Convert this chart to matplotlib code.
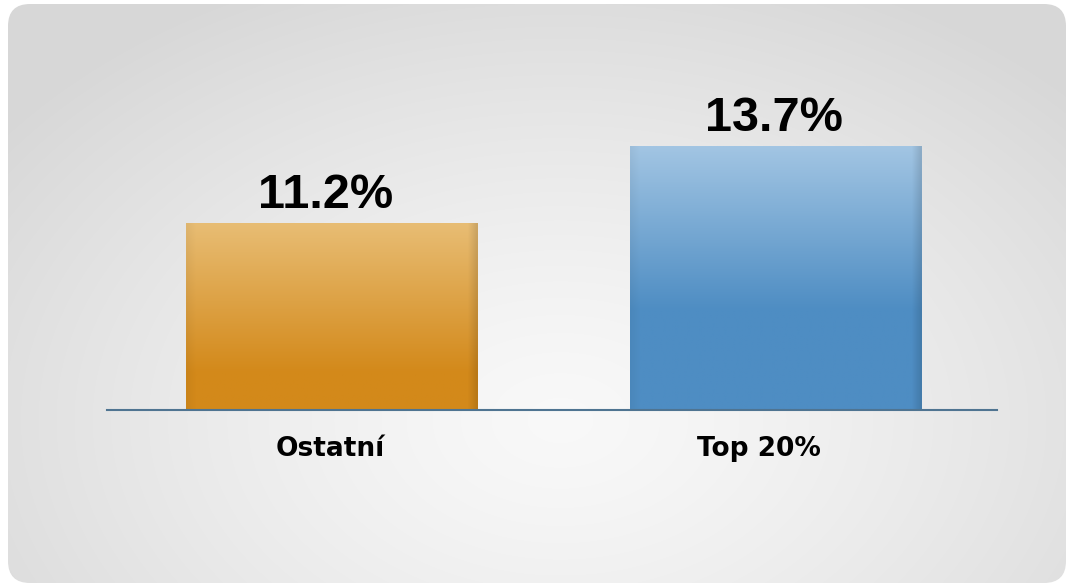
import numpy as np
import matplotlib
matplotlib.use("Agg")
from matplotlib import pyplot as plt
from matplotlib.patches import FancyBboxPatch
from matplotlib.colors import to_rgb
from matplotlib.transforms import ScaledTranslation

categories = ["Ostatní", "Top 20%"]
values = [11.2, 13.7]
value_labels = ["11.2%", "13.7%"]
top_colors = ["#E8BD74", "#A2C5E3"]
bottom_colors = ["#D3891A", "#4E8DC3"]

plt.rcParams['font.family'] = ['Liberation Sans', 'DejaVu Sans']

W, H = 1068, 585
fig = plt.figure(figsize=(W / 100, H / 100), dpi=100)
fig.patch.set_facecolor("white")

# background panel with radial gradient, rounded corners
bg = fig.add_axes([0, 0, 1, 1])
bg.set_xlim(0, W)
bg.set_ylim(H, 0)
bg.axis("off")
yy, xx = np.mgrid[0:H, 0:W]
r = np.sqrt(((xx - 560) / 700.0) ** 2 + ((yy - 420) / 480.0) ** 2)
r = np.clip(r, 0, 1)
shade = 0.975 - 0.13 * r ** 1.3
img = np.dstack([shade, shade, shade])
panel = FancyBboxPatch((8, 4), 1058, 579, boxstyle="round,pad=0,rounding_size=22",
                       facecolor="none", edgecolor="none", transform=bg.transData)
bg.add_patch(panel)
im = bg.imshow(img, extent=(0, W, H, 0), interpolation="bilinear")
im.set_clip_path(panel)

# chart axes placed in pixel terms
ax = fig.add_axes([107 / W, 175 / H, 890 / W, 350 / H])
ax.patch.set_alpha(0)
ybase = 5.13
ax.set_ylim(ybase, ybase + 350 / 30.8)
ax.set_xlim(-0.505, 1.497)
x = np.arange(len(categories))
bars = ax.bar(x, [v - ybase for v in values], bottom=ybase, width=0.655,
              facecolor="none", edgecolor="none")

label_shift = [-6, -2]  # px, value labels sit a bit left of centre
for i, b in enumerate(bars):
    x0, y0 = b.get_x(), b.get_y()
    w, h = b.get_width(), b.get_height()
    t = np.asarray(to_rgb(top_colors[i]))
    bo = np.asarray(to_rgb(bottom_colors[i]))
    n = 200
    s = np.linspace(0, 1, n)  # 0 at top, 1 at bottom
    if i == 1:
        s = np.clip(s / 0.62, 0, 1)
    else:
        s = np.clip(s / 0.8, 0, 1)
    col = t[None, :] * (1 - s[:, None]) + bo[None, :] * s[:, None]
    m = 100
    u = np.linspace(0, 1, m)
    edge = 1 - 0.12 * np.clip((u - 0.97) / 0.03, 0, 1) - 0.04 * np.clip((0.03 - u) / 0.03, 0, 1)
    grad = col[:, None, :] * edge[None, :, None]
    gi = ax.imshow(grad, extent=(x0, x0 + w, y0, y0 + h), aspect="auto",
                   interpolation="bilinear", zorder=2)
    gi.set_clip_path(b)
    ax.annotate(value_labels[i], (x0 + w / 2, values[i]),
                xytext=(label_shift[i] * 0.72, 10.5), textcoords="offset points",
                ha="center", va="baseline", fontsize=35, fontweight="bold", color="black")

ax.set_xticks(x)
ax.set_xticklabels(categories, fontsize=19, fontweight="bold", family=["DejaVu Sans"])
ax.tick_params(axis="x", length=0, pad=18.5)
# second category label sits left of its bar centre in the original
tick_shift = [-0.01, -0.17]
for lab, dx in zip(ax.get_xticklabels(), tick_shift):
    lab.set_transform(lab.get_transform() + ScaledTranslation(dx, 0, fig.dpi_scale_trans))
ax.set_yticks([])
for sp in ["top", "right", "left"]:
    ax.spines[sp].set_visible(False)
ax.spines["bottom"].set_color("#4F7491")
ax.spines["bottom"].set_linewidth(1.5)
ax.spines["bottom"].set_zorder(3)

fig.savefig("out.png", dpi=100)
